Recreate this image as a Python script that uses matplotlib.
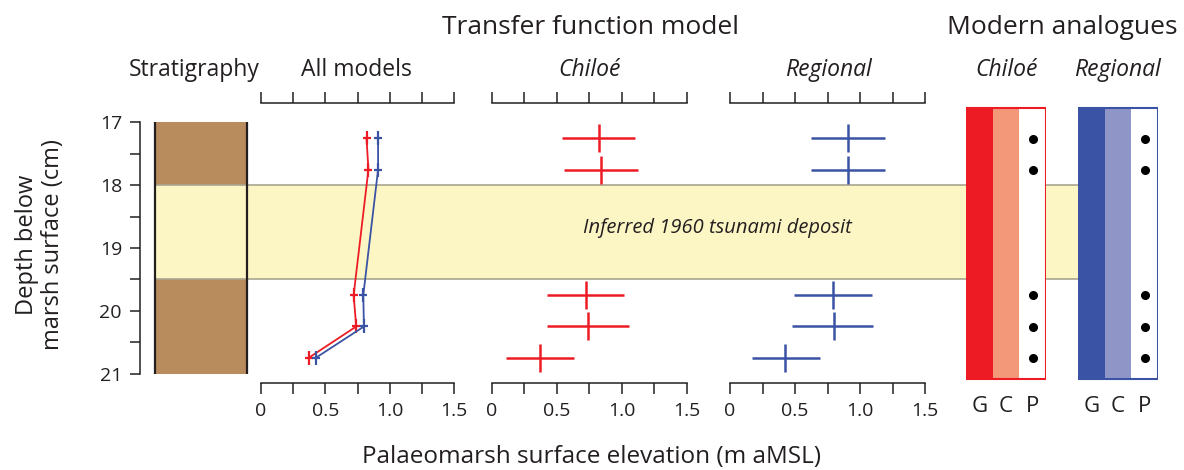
import matplotlib
matplotlib.use("Agg")
import matplotlib.pyplot as plt
from matplotlib.ticker import MultipleLocator, FixedLocator, FixedFormatter

plt.rcParams.update({"font.family": ["Open Sans", "DejaVu Sans"], "text.color": "#231F20",
                     "axes.edgecolor": "#231F20", "xtick.color": "#231F20",
                     "ytick.color": "#231F20"})

W, H = 1184, 470
RED, SALMON = "#ED1C24", "#F4987A"
BLUE, LAVENDER = "#3A53A4", "#9095C7"
BROWN, SAND, SAND_EDGE = "#B98C5E", "#FCF6C5", "#A9A58F"

# sample depths (cm) and reconstructed elevations (m aMSL)
depth = [17.25, 17.75, 19.75, 20.25, 20.75]
chiloe_mean = [0.82, 0.835, 0.72, 0.74, 0.37]
chiloe_lo = [0.54, 0.555, 0.42, 0.42, 0.105]
chiloe_hi = [1.10, 1.12, 1.015, 1.055, 0.63]
regional_mean = [0.91, 0.91, 0.795, 0.80, 0.425]
regional_lo = [0.62, 0.62, 0.495, 0.48, 0.17]
regional_hi = [1.19, 1.19, 1.09, 1.10, 0.695]

# stratigraphy
unit_top = [17.0, 18.0, 19.5]
unit_base = [18.0, 19.5, 21.0]
unit_kind = ["marsh", "tsunami", "marsh"]

# modern analogue classes (G good, C close, P poor) per sample
analogue_classes = ["G", "C", "P"]
chiloe_analogue = ["P", "P", "P", "P", "P"]
regional_analogue = ["P", "P", "P", "P", "P"]

Y_TOP, Y_BOT = 16.69, 21.15
fig = plt.figure(figsize=(W / 100, H / 100), dpi=100)


def px_axes(x0, x1, y0=103, y1=383):
    ax = fig.add_axes([x0 / W, 1 - y1 / H, (x1 - x0) / W, (y1 - y0) / H])
    ax.set_ylim(Y_BOT, Y_TOP)
    ax.patch.set_alpha(0)
    return ax


def ftext(x, y, s, **kw):
    fig.text(x / W, 1 - y / H, s, ha="center", va="center", **kw)


# background: depth axis, stratigraphy column, tsunami band (x in pixels)
bg = px_axes(140, W)
bg.set_xlim(140, W)
for side in ["top", "right", "bottom"]:
    bg.spines[side].set_visible(False)
bg.spines["left"].set_bounds(17, 21)
bg.spines["left"].set_linewidth(1.1)
bg.set_xticks([])
bg.yaxis.set_major_locator(MultipleLocator(1))
bg.yaxis.set_minor_locator(MultipleLocator(0.5))
bg.tick_params(axis="y", which="both", direction="out", length=7, width=1.1, labelsize=14, pad=6)
for top, base, kind in zip(unit_top, unit_base, unit_kind):
    if kind == "tsunami":
        bg.fill_between([155, 1078], top, base, color=SAND, lw=0, zorder=1)
        bg.hlines([top, base], 155, 1078, color=SAND_EDGE, lw=1.2, zorder=2)
    else:
        bg.fill_between([155, 247], top, base, color=BROWN, lw=0, zorder=1)
bg.vlines([155, 247], unit_top[0], unit_base[-1], color="#231F20", lw=1.6, zorder=3)
bg.text(717, 18.68, "Inferred 1960 tsunami deposit", style="italic", fontsize=14.5,
        ha="center", va="center", zorder=4)


def elevation_axes(x0, x1):
    ax = px_axes(x0, x1)
    ax.set_xlim(0, 1.5)
    for side in ["left", "right"]:
        ax.spines[side].set_visible(False)
    for side in ["top", "bottom"]:
        ax.spines[side].set_linewidth(1.1)
    ax.set_yticks([])
    ax.xaxis.set_major_locator(FixedLocator([0, 0.5, 1.0, 1.5]))
    ax.xaxis.set_major_formatter(FixedFormatter(["0", "0.5", "1.0", "1.5"]))
    ax.xaxis.set_minor_locator(MultipleLocator(0.25))
    ax.tick_params(axis="x", which="both", direction="out", length=8, width=1.1,
                   top=True, bottom=True, labeltop=False, labelsize=14, pad=6)
    return ax


ax_all = elevation_axes(261, 454)
for mean, color in [(chiloe_mean, RED), (regional_mean, BLUE)]:
    ax_all.plot(mean, depth, color=color, lw=1.3)
    ax_all.plot(mean, depth, ls="none", marker="|", ms=10, mew=1.6, color=color)
    ax_all.plot(mean, depth, ls="none", marker="_", ms=6, mew=1.6, color=color)

for (x0, x1), mean, lo, hi, color in [((492, 687), chiloe_mean, chiloe_lo, chiloe_hi, RED),
                                      ((730, 925), regional_mean, regional_lo, regional_hi, BLUE)]:
    ax = elevation_axes(x0, x1)
    err = [[m - l for m, l in zip(mean, lo)], [h - m for m, h in zip(mean, hi)]]
    ax.errorbar(mean, depth, xerr=err, fmt="none", ecolor=color, elinewidth=1.8, capsize=0)
    ax.plot(mean, depth, ls="none", marker="|", ms=20, mew=1.8, color=color)

# modern analogue boxes
for (x0, x1), classes, cols, edge in [((966, 1046), chiloe_analogue, [RED, SALMON, "white"], RED),
                                       ((1078, 1158), regional_analogue, [BLUE, LAVENDER, "white"], BLUE)]:
    ax = px_axes(x0, x1, 100, 390)
    ax.set_ylim(21.26, 16.63)
    ax.set_xlim(0, 3)
    ax.axis("off")
    xs = range(len(analogue_classes))
    ax.bar([i + 0.5 for i in xs], 21.09 - 16.75, bottom=16.75, width=1, color=cols, lw=0)
    ax.bar(1.5, 21.09 - 16.75, bottom=16.75, width=3, fill=False, edgecolor=edge, lw=1.5)
    pi = analogue_classes.index("P")
    dots = [d for d, c in zip(depth, classes) if c == "P"]
    ax.plot([pi + 0.5] * len(dots), dots, "o", color="black", ms=5.5)
    for i, lab in enumerate(analogue_classes):
        ftext(x0 + (x1 - x0) * (i + 0.5) / 3, 407, lab, fontsize=16)

# headings
ftext(590, 28, "Transfer function model", fontsize=19)
ftext(1062, 28, "Modern analogues", fontsize=19)
ftext(194, 70, "Stratigraphy", fontsize=16.5)
ftext(356, 70, "All models", fontsize=16.5)
for x, s in [(590, "Chiloé"), (828, "Regional"), (1007, "Chiloé"), (1117, "Regional")]:
    ftext(x, 70, s, fontsize=16.5, style="italic")
ftext(40, 245, "Depth below\nmarsh surface (cm)", fontsize=17, rotation=90, linespacing=1.15)
ftext(592, 457, "Palaeomarsh surface elevation (m aMSL)", fontsize=17.5)

fig.savefig("out.png", dpi=100)
